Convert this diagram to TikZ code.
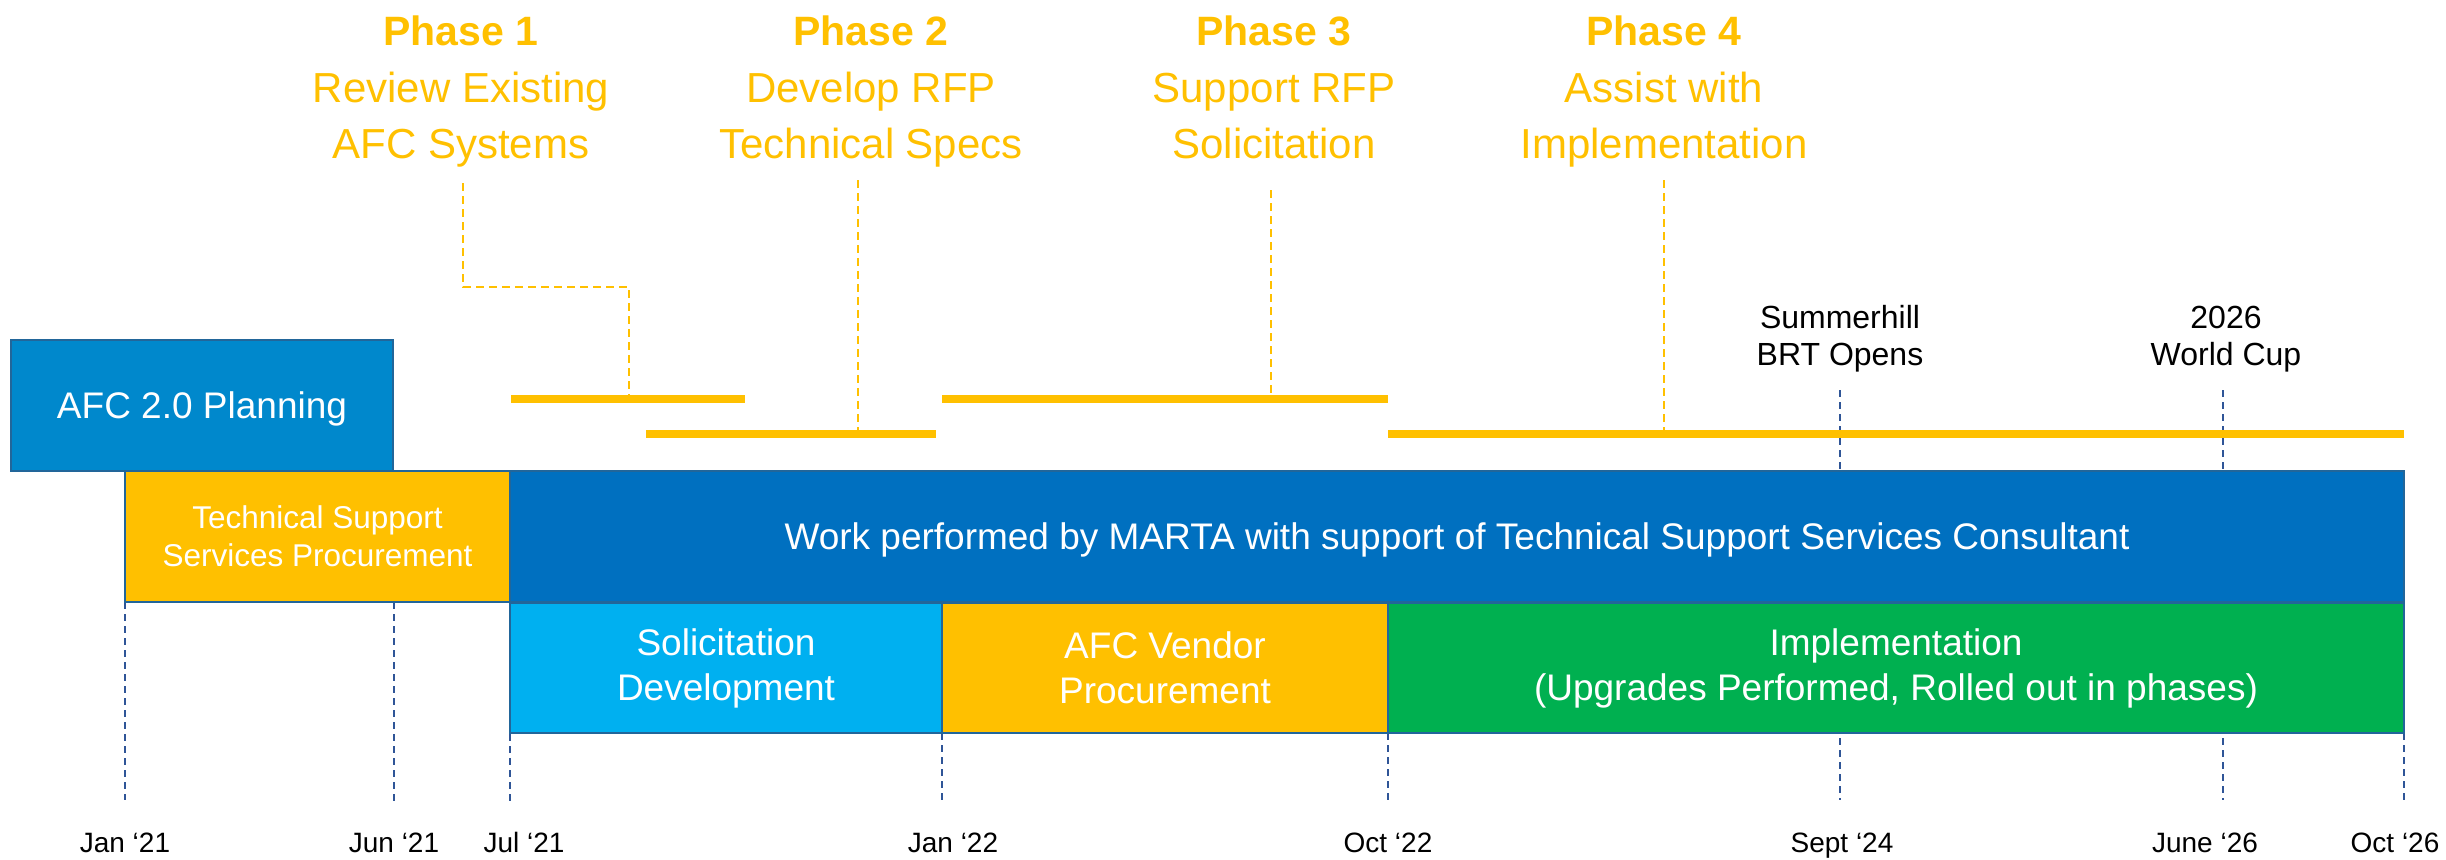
\documentclass[tikz,border=0pt]{standalone}
\usepackage{fontspec}
\setmainfont{Liberation Sans}
\definecolor{gold}{HTML}{FFC000}
\definecolor{planc}{HTML}{0088CC}
\definecolor{workc}{HTML}{0070C0}
\definecolor{solic}{HTML}{00B0F0}
\definecolor{greenc}{HTML}{00B050}
\definecolor{bordc}{HTML}{22669A}
\definecolor{dashc}{HTML}{2F5597}
\begin{document}
\begin{tikzpicture}[x=0.5pt,y=-0.5pt,
  box/.style={draw=bordc, line width=1pt, inner sep=0pt, text=white, align=center, font=\fontsize{18.5}{22.5}\selectfont},
  oneline/.style={text depth=0pt},
  datedash/.style={draw=dashc, line width=1pt, dash pattern=on 3.5pt off 2.5pt},
  phasedash/.style={draw=gold, line width=0.75pt, dash pattern=on 4pt off 2.5pt},
  bar/.style={fill=gold, inner sep=0pt, minimum height=4pt},
  phasehead/.style={text=gold, font=\fontsize{20.5}{24}\selectfont\bfseries, anchor=base, inner sep=0pt},
  phasetext/.style={text=gold, font=\fontsize{21}{24}\selectfont, anchor=base, inner sep=0pt},
  datelabel/.style={font=\fontsize{14}{16}\selectfont, anchor=base, inner sep=0pt},
  mile/.style={font=\fontsize{16}{19}\selectfont, anchor=base, inner sep=0pt}]
\useasboundingbox (0,0) rectangle (2446,859);

% date guide lines
\coordinate (d1t) at (125,602);  \coordinate (d1b) at (125,800);
\coordinate (d2t) at (394,602);  \coordinate (d2b) at (394,805);
\coordinate (d3t) at (510,602);  \coordinate (d3b) at (510,801);
\coordinate (d4t) at (942,733);  \coordinate (d4b) at (942,803);
\coordinate (d5t) at (1388,733); \coordinate (d5b) at (1388,800);
\coordinate (d6t) at (1840,390); \coordinate (d6b) at (1840,800);
\coordinate (d7t) at (2223,390); \coordinate (d7b) at (2223,800);
\coordinate (d8t) at (2404,733); \coordinate (d8b) at (2404,803);
\foreach \i in {1,...,8} {\draw[datedash] (d\i t) -- (d\i b);}

% phase bars
\node[bar, minimum width=117pt] (bar1) at (628,399) {};
\node[bar, minimum width=145pt] (bar2) at (791,434) {};
\node[bar, minimum width=223pt] (bar3) at (1165,399) {};
\node[bar, minimum width=508pt] (bar4) at (1896,434) {};

% phase connectors
\coordinate (p1a) at (463,183); \coordinate (p1k) at (629,287);
\coordinate (p2a) at (858,180);
\coordinate (p3a) at (1271,190);
\coordinate (p4a) at (1664,180);
\draw[phasedash] (p1a) |- (p1k) -- (p1k |- bar1.north);
\draw[phasedash] (p2a) -- (p2a |- bar2.north);
\draw[phasedash] (p3a) -- (p3a |- bar3.north);
\draw[phasedash] (p4a) -- (p4a |- bar4.north);

% phase titles
\node[phasehead] (ph1) at (461,45) {Phase 1};
\node[phasetext] (ph1a) at (461,102) {Review Existing};
\node[phasetext] (ph1b) at (461,158) {AFC Systems};
\node[phasehead] (ph2) at (871,45) {Phase 2};
\node[phasetext] (ph2a) at (871,102) {Develop RFP};
\node[phasetext] (ph2b) at (871,158) {Technical Specs};
\node[phasehead] (ph3) at (1274,45) {Phase 3};
\node[phasetext] (ph3a) at (1274,102) {Support RFP};
\node[phasetext] (ph3b) at (1274,158) {Solicitation};
\node[phasehead] (ph4) at (1664,45) {Phase 4};
\node[phasetext] (ph4a) at (1664,102) {Assist with};
\node[phasetext] (ph4b) at (1664,158) {Implementation};

% milestones
\node[mile] (m1a) at (1840,328) {Summerhill};
\node[mile] (m1b) at (1840,365) {BRT Opens};
\node[mile] (m2a) at (2226,328) {2026};
\node[mile] (m2b) at (2226,365) {World Cup};

% boxes
\node[box, oneline, fill=planc, minimum width=191pt, minimum height=65.5pt] (plan) at (202,405.5) {AFC 2.0 Planning};
\node[box, fill=gold, minimum width=192.5pt, minimum height=65.5pt, font=\fontsize{15.75}{19}\selectfont] (tss) at (317.5,536.5) {Technical Support\\Services Procurement};
\node[box, oneline, fill=workc, minimum width=947pt, minimum height=65.5pt] (work) at (1457,536.5) {Work performed by MARTA with support of Technical Support Services Consultant};
\node[box, fill=solic, minimum width=216pt, minimum height=65pt] (soli) at (726,668) {Solicitation\\Development};
\node[box, fill=gold, minimum width=223pt, minimum height=65pt] (vend) at (1165,668) {AFC Vendor\\Procurement};
\node[box, fill=greenc, minimum width=508pt, minimum height=65pt] (impl) at (1896,668) {Implementation\\(Upgrades Performed, Rolled out in phases)};

% date labels
\node[datelabel] (l1) at (125,852) {Jan ‘21};
\node[datelabel] (l2) at (394,852) {Jun ‘21};
\node[datelabel] (l3) at (524,852) {Jul ‘21};
\node[datelabel] (l4) at (953,852) {Jan ‘22};
\node[datelabel] (l5) at (1388,852) {Oct ‘22};
\node[datelabel] (l6) at (1842,852) {Sept ‘24};
\node[datelabel] (l7) at (2205,852) {June ‘26};
\node[datelabel] (l8) at (2395,852) {Oct ‘26};
\end{tikzpicture}
\end{document}
